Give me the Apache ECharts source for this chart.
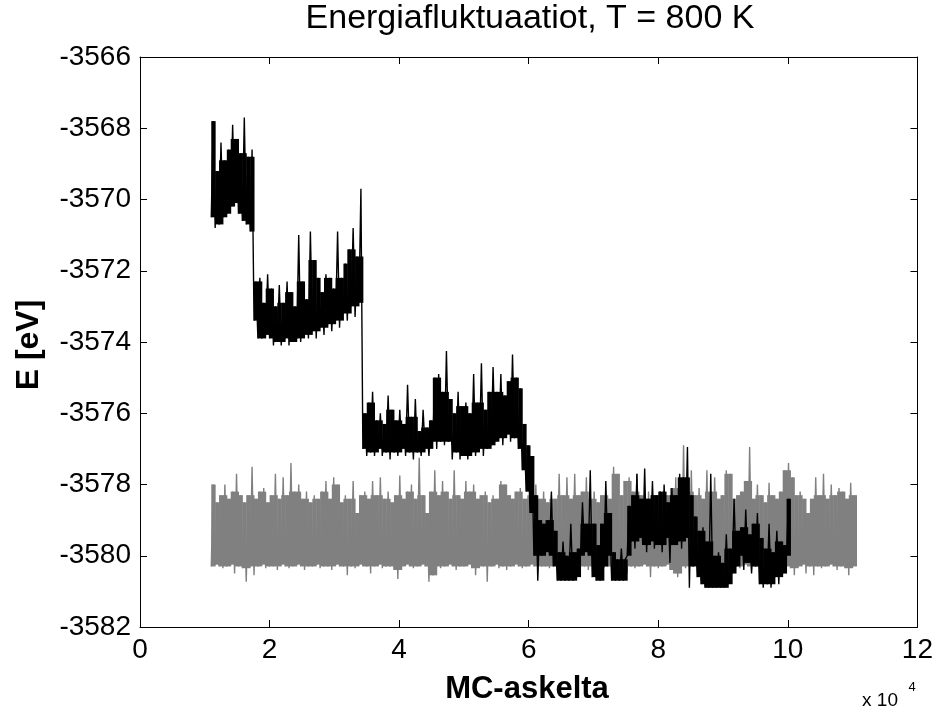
<!DOCTYPE html>
<html>
<head>
<meta charset="utf-8">
<script src="https://cdn.jsdelivr.net/npm/echarts/dist/echarts.min.js"></script>
<style>
html,body{margin:0;padding:0;background:#ffffff;}
#chart{width:936px;height:713px;}
</style>
</head>
<body>
<div id="chart"></div>
<script>
// ---- axis ticks ----
const xTickValues = [0, 2, 4, 6, 8, 10, 12];
const yTickValues = [-3582, -3580, -3578, -3576, -3574, -3572, -3570, -3568, -3566];

// ---- sampling of the MC run (x in units of 10^4 MC steps) ----
const sampleStart = 1.10;   // first recorded step
const pairSpacing = 0.06;   // one low/high pair per 600 steps

// ---- run 1 (black): low / high values of each pair ----
const blackLow = [
  -3570.5,-3570.8,-3570.7,-3570.5,-3570.4,-3570.2,-3570.1,-3570.4,-3570.6,-3570.7,-3570.9,
  -3573.4,-3573.9,-3573.9,-3573.8,-3573.9,-3574.1,-3574.0,-3574.1,-3573.9,-3574.1,-3574.0,-3573.9,-3574.0,-3573.8,
  -3573.9,-3573.7,-3573.9,-3573.6,-3573.8,-3573.5,-3573.7,-3573.4,-3573.6,-3573.2,-3573.4,-3573.0,-3573.3,-3572.9,
  -3577.0,-3577.2,-3577.1,-3577.2,-3577.0,-3577.2,-3577.1,-3577.3,-3577.1,-3577.2,-3577.0,-3577.2,-3577.1,-3577.3,
  -3577.1,-3577.2,-3577.0,-3577.2,-3576.8,-3577.0,-3576.8,-3576.9,-3576.8,-3577.3,-3577.1,-3577.3,-3577.2,-3577.3,
  -3577.1,-3577.2,-3577.0,-3577.2,-3577.0,-3576.9,-3576.8,-3576.7,-3576.9,-3576.6,-3576.8,-3576.7,
  -3577.0,-3577.6,-3578.2,-3578.8,-3580.0,
  -3580.7,-3580.0,-3579.9,-3580.0,-3580.3,-3580.7,-3580.7,-3580.7,-3580.7,-3580.7,-3580.6,-3580.0,-3579.9,-3580.0,
  -3580.6,-3580.7,-3580.7,-3580.3,-3580.0,-3580.7,-3580.7,-3580.7,-3580.7,-3580.0,-3579.6,-3579.8,-3579.5,-3579.7,
  -3579.9,-3579.6,-3579.8,-3579.7,-3579.9,-3579.5,-3580.2,-3579.7,-3579.6,-3579.8,-3579.5,-3580.9,-3580.3,-3580.6,
  -3580.8,-3580.9,-3580.9,-3580.9,-3580.9,-3580.9,-3580.9,-3580.8,-3580.5,-3580.3,-3580.0,-3580.4,-3580.2,-3580.5,
  -3580.3,-3580.8,-3580.9,-3580.8,-3580.9,-3580.6,-3580.8,-3580.5,-3580.0
];
const blackHigh = [
  -3567.8,-3569.2,-3568.4,-3568.9,-3568.6,-3567.9,-3568.3,-3568.7,-3567.7,-3568.8,-3568.6,
  -3572.3,-3572.2,-3572.9,-3572.1,-3572.5,-3573.0,-3572.4,-3572.9,-3572.3,-3572.6,-3573.0,-3571.0,-3572.3,-3572.8,
  -3570.9,-3571.7,-3572.2,-3572.6,-3572.1,-3572.2,-3572.5,-3570.9,-3572.2,-3571.8,-3571.4,-3570.8,-3571.6,-3569.7,
  -3576.0,-3575.7,-3575.4,-3576.2,-3576.0,-3576.3,-3575.5,-3575.9,-3576.2,-3575.9,-3576.3,-3575.2,-3576.1,-3575.6,
  -3576.5,-3575.9,-3576.4,-3576.2,-3575.0,-3574.9,-3575.4,-3574.25,-3575.6,-3576.0,-3575.4,-3575.8,-3575.7,-3576.0,
  -3574.9,-3575.7,-3574.6,-3575.9,-3575.4,-3574.7,-3575.4,-3574.9,-3575.5,-3575.1,-3574.35,-3575.0,
  -3575.3,-3576.3,-3576.9,-3577.2,-3578.3,
  -3579.0,-3579.1,-3579.0,-3578.2,-3579.3,-3579.9,-3579.6,-3580.0,-3579.1,-3579.9,-3579.8,-3578.5,-3579.1,-3577.6,
  -3579.1,-3579.7,-3579.1,-3577.9,-3578.8,-3579.9,-3580.1,-3579.8,-3580.1,-3578.6,-3578.3,-3577.7,-3578.4,-3577.55,
  -3578.4,-3577.9,-3578.3,-3578.2,-3578.0,-3578.5,-3578.1,-3578.3,-3577.7,-3577.8,-3576.95,-3578.3,-3578.9,-3579.3,
  -3579.2,-3579.6,-3577.7,-3580.0,-3579.9,-3580.2,-3579.4,-3579.8,-3578.4,-3579.3,-3579.2,-3578.7,-3579.4,-3579.1,
  -3578.8,-3579.5,-3579.8,-3579.1,-3579.9,-3579.3,-3579.6,-3579.7,-3578.4
];

// ---- run 2 (grey): low / high values of each pair ----
const greyLow = [
  -3580.3,-3580.25,-3580.3,-3580.35,-3580.3,-3580.25,-3580.5,-3580.3,-3580.35,-3580.73,
  -3580.3,-3580.55,-3580.3,-3580.25,-3580.35,-3580.3,-3580.3,-3580.4,-3580.25,-3580.3,
  -3580.35,-3580.3,-3580.25,-3580.3,-3580.4,-3580.3,-3580.3,-3580.25,-3580.35,-3580.3,
  -3580.3,-3580.4,-3580.25,-3580.3,-3580.3,-3580.55,-3580.3,-3580.35,-3580.25,-3580.3,
  -3580.3,-3580.5,-3580.3,-3580.25,-3580.35,-3580.3,-3580.3,-3580.4,-3580.65,-3580.3,
  -3580.25,-3580.3,-3580.35,-3580.3,-3580.25,-3580.3,-3580.73,-3580.55,-3580.3,-3580.35,
  -3580.3,-3580.25,-3580.3,-3580.4,-3580.3,-3580.3,-3580.25,-3580.35,-3580.55,-3580.3,
  -3580.3,-3580.73,-3580.3,-3580.25,-3580.35,-3580.3,-3580.4,-3580.3,-3580.25,-3580.3,
  -3580.35,-3580.3,-3580.25,-3580.3,-3580.4,-3580.3,-3580.3,-3580.35,-3580.25,-3580.3,
  -3580.3,-3580.4,-3580.3,-3580.25,-3580.35,-3580.3,-3580.3,-3580.4,-3580.3,-3580.25,
  -3580.3,-3580.35,-3580.3,-3580.4,-3580.3,-3580.25,-3580.3,-3580.5,-3580.3,-3580.35,
  -3580.3,-3580.25,-3580.3,-3580.6,-3580.3,-3580.35,-3580.3,-3580.25,-3580.4,-3580.5,
  -3580.6,-3580.3,-3580.35,-3580.3,-3580.25,-3580.3,-3580.4,-3580.3,-3580.3,-3580.35,
  -3580.3,-3580.25,-3580.3,-3580.4,-3580.3,-3580.3,-3580.35,-3580.25,-3580.3,-3580.4,
  -3580.3,-3580.3,-3580.25,-3580.35,-3580.3,-3580.4,-3580.3,-3580.25,-3580.3,-3580.35,
  -3580.55,-3580.3,-3580.25,-3580.5,-3580.3,-3580.55,-3580.3,-3580.35,-3580.3,-3580.25,
  -3580.3,-3580.4,-3580.3,-3580.35,-3580.55,-3580.3
];
const greyHigh = [
  -3578.0,-3578.5,-3578.3,-3578.0,-3578.4,-3578.2,-3577.7,-3578.3,-3578.5,-3578.3,
  -3577.5,-3578.4,-3578.2,-3578.1,-3578.5,-3578.3,-3577.7,-3578.4,-3577.8,-3578.3,
  -3577.4,-3578.2,-3578.0,-3578.4,-3578.2,-3578.5,-3578.3,-3578.4,-3578.2,-3577.9,
  -3578.4,-3577.8,-3578.0,-3578.5,-3578.3,-3578.4,-3577.9,-3578.8,-3578.3,-3578.2,
  -3578.4,-3577.9,-3578.3,-3577.8,-3578.4,-3578.2,-3578.5,-3578.3,-3577.75,-3578.4,
  -3578.2,-3578.0,-3578.4,-3577.25,-3578.3,-3578.8,-3578.2,-3577.6,-3578.3,-3577.9,
  -3578.2,-3578.4,-3577.6,-3578.3,-3578.4,-3577.9,-3578.2,-3578.0,-3578.4,-3578.3,
  -3578.2,-3578.5,-3578.3,-3578.4,-3577.9,-3578.0,-3578.3,-3578.4,-3578.2,-3578.1,
  -3578.4,-3578.3,-3578.5,-3578.0,-3578.4,-3578.2,-3578.5,-3578.3,-3578.4,-3577.7,
  -3578.3,-3577.8,-3578.4,-3577.7,-3578.3,-3578.2,-3577.8,-3578.4,-3578.2,-3578.5,
  -3578.3,-3578.2,-3578.4,-3577.5,-3577.7,-3578.3,-3577.9,-3577.8,-3578.2,-3577.7,
  -3578.3,-3578.4,-3578.2,-3578.5,-3578.3,-3578.2,-3578.4,-3578.3,-3578.1,-3577.8,
  -3578.3,-3576.9,-3578.2,-3577.6,-3578.3,-3578.1,-3578.4,-3577.6,-3578.2,-3577.8,
  -3578.4,-3578.3,-3577.6,-3577.7,-3578.4,-3578.3,-3578.2,-3577.9,-3576.95,-3578.4,
  -3578.0,-3578.3,-3578.5,-3577.95,-3578.3,-3578.4,-3578.2,-3577.6,-3577.4,-3577.8,
  -3578.3,-3578.2,-3578.4,-3578.8,-3578.4,-3577.8,-3578.3,-3577.7,-3578.4,-3578.0,
  -3578.3,-3578.1,-3578.2,-3578.4,-3577.95,-3578.3
];

// ---- texts ----
const titleText = 'Energiafluktuaatiot, T = 800 K';
const xLabelText = 'MC-askelta';
const yLabelText = 'E [eV]';
const xScaleText = 'x 10';
const xScaleExp = '4';

// zig-zag trace: low then high for every pair
function buildTrace(lows, highs) {
  const pts = [];
  for (let k = 0; k < lows.length; k++) {
    const x0 = sampleStart + k * pairSpacing;
    pts.push([x0, lows[k]]);
    pts.push([x0 + pairSpacing / 2, highs[k]]);
  }
  return pts;
}
// dense core of the trace: isolated spikes/dips clipped to their neighbours
function buildCore(lows, highs) {
  const out = [];
  const n = lows.length;
  for (let k = 0; k < n; k++) {
    const hp = highs[Math.max(0, k - 1)], hn = highs[Math.min(n - 1, k + 1)];
    const lp = lows[Math.max(0, k - 1)], ln = lows[Math.min(n - 1, k + 1)];
    const ch = Math.min(highs[k], Math.max(hp, hn));
    const cl = Math.max(lows[k], Math.min(lp, ln));
    if (ch > cl) out.push([sampleStart + k * pairSpacing, cl, ch]);
  }
  return out;
}
function coreRenderer(color) {
  return function (params, api) {
    const x0 = api.value(0);
    const pTop = api.coord([x0, api.value(2)]);
    const pBot = api.coord([x0 + pairSpacing, api.value(1)]);
    return {
      type: 'rect',
      shape: {x: pTop[0], y: pTop[1], width: pBot[0] - pTop[0] + 0.5, height: pBot[1] - pTop[1]},
      style: {fill: color}
    };
  };
}

const FONT = '"Liberation Sans", Arial, Helvetica, sans-serif';
const chart = echarts.init(document.getElementById('chart'), null, {renderer: 'canvas'});

const axisLine = {show: true, onZero: false, lineStyle: {color: '#000', width: 1}};
const axisTick = {show: true, inside: true, length: 7, lineStyle: {color: '#000', width: 1}};
const GREY = '#808080', BLACK = '#000000';

chart.setOption({
  animation: false,
  backgroundColor: '#ffffff',
  grid: {left: 140, right: 18, top: 57, bottom: 86, containLabel: false},
  xAxis: [
    {type: 'value', position: 'bottom', min: xTickValues[0], max: xTickValues[xTickValues.length - 1], interval: 2,
     axisLine: axisLine, axisTick: axisTick, splitLine: {show: false},
     axisLabel: {show: true, color: '#000', fontSize: 28, fontFamily: FONT, margin: 9, showMinLabel: true, showMaxLabel: true,
                 formatter: v => String(v)}},
    {type: 'value', position: 'top', min: xTickValues[0], max: xTickValues[xTickValues.length - 1], interval: 2,
     axisLine: axisLine, axisTick: axisTick, splitLine: {show: false}, axisLabel: {show: false}}
  ],
  yAxis: [
    {type: 'value', position: 'left', min: yTickValues[0], max: yTickValues[yTickValues.length - 1], interval: 2,
     axisLine: axisLine, axisTick: axisTick, splitLine: {show: false},
     axisLabel: {show: true, color: '#000', fontSize: 28, fontFamily: FONT, margin: 9, showMinLabel: true, showMaxLabel: true,
                 formatter: v => String(v)}},
    {type: 'value', position: 'right', min: yTickValues[0], max: yTickValues[yTickValues.length - 1], interval: 2,
     axisLine: axisLine, axisTick: axisTick, splitLine: {show: false}, axisLabel: {show: false}}
  ],
  series: [
    {type: 'custom', name: 'grey core', xAxisIndex: 0, yAxisIndex: 0, data: buildCore(greyLow, greyHigh),
     renderItem: coreRenderer(GREY), encode: {x: 0, y: [1, 2]}, z: 2, silent: true},
    {type: 'line', name: 'grey', xAxisIndex: 0, yAxisIndex: 0, data: buildTrace(greyLow, greyHigh),
     symbol: 'none', showSymbol: false, sampling: null, lineStyle: {color: GREY, width: 1.4}, z: 3},
    {type: 'custom', name: 'black core', xAxisIndex: 0, yAxisIndex: 0, data: buildCore(blackLow, blackHigh),
     renderItem: coreRenderer(BLACK), encode: {x: 0, y: [1, 2]}, z: 4, silent: true},
    {type: 'line', name: 'black', xAxisIndex: 0, yAxisIndex: 0, data: buildTrace(blackLow, blackHigh),
     symbol: 'none', showSymbol: false, sampling: null, lineStyle: {color: BLACK, width: 1.4}, z: 5}
  ],
  graphic: [
    {type: 'text', x: 530, y: 19, style: {text: titleText, fill: '#000', font: '34px ' + FONT, textAlign: 'center', textVerticalAlign: 'middle'}},
    {type: 'text', x: 527, y: 689, style: {text: xLabelText, fill: '#000', font: 'bold 31px ' + FONT, textAlign: 'center', textVerticalAlign: 'middle'}},
    {type: 'text', x: 29, y: 345, rotation: Math.PI / 2, style: {text: yLabelText, fill: '#000', font: 'bold 32px ' + FONT, textAlign: 'center', textVerticalAlign: 'middle'}},
    {type: 'text', x: 880, y: 701, style: {text: xScaleText, fill: '#000', font: '19px ' + FONT, textAlign: 'center', textVerticalAlign: 'middle'}},
    {type: 'text', x: 912, y: 687, style: {text: xScaleExp, fill: '#000', font: '13px ' + FONT, textAlign: 'center', textVerticalAlign: 'middle'}}
  ]
});
</script>
</body>
</html>
